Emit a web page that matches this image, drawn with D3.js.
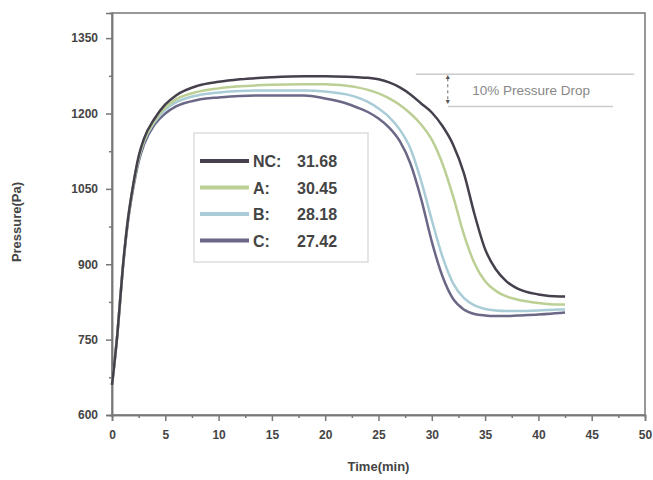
<!DOCTYPE html>
<html>
<head>
<meta charset="utf-8">
<script src="https://cdn.jsdelivr.net/npm/d3@7"></script>
<style>
body{margin:0;background:#fff;}
text{font-family:"Liberation Sans",Arial,sans-serif;}
</style>
</head>
<body>
<svg id="graph" width="653" height="480"></svg>
<script>
//donnees
var temps = [0,0.5,1,1.5,2,2.5,3,4,5,6,8,10,12,15,18,20,22,23,24,25,26,27,28,29,30,31,32,33,34,35,36,37,38,40,42,42.5];
var serieNC = [660,760,890,990,1060,1115,1150,1190,1218,1236,1255,1263,1268,1272,1274,1274,1273,1272,1271,1268,1262,1252,1238,1220,1202,1175,1138,1082,1000,930,890,866,852,840,836,836];
var serieA  = [660,760,890,990,1058,1112,1146,1186,1212,1228,1243,1250,1254,1257,1258,1258,1255,1252,1247,1240,1230,1217,1200,1178,1148,1100,1035,960,902,866,847,836,830,823,820,820];
var serieB  = [660,760,890,990,1058,1110,1144,1183,1208,1222,1236,1242,1245,1246,1246,1244,1238,1232,1223,1210,1193,1168,1130,1066,988,915,862,833,818,811,808,807,807,808,810,810];
var serieC  = [660,760,888,985,1052,1104,1138,1178,1200,1214,1227,1232,1235,1236,1236,1230,1220,1212,1203,1190,1172,1145,1100,1030,945,876,831,810,801,798,797,797,798,800,803,804];
var noms = ["NC:","A:","B:","C:"];
var valeurs = ["31.68","30.45","28.18","27.42"];
var couleurs = ["#45404c","#bccf94","#a9ccd6","#6a6886"];
var ticksX = [0,5,10,15,20,25,30,35,40,45,50];
var ticksY = [600,750,900,1050,1200,1350];

var svg = d3.select("#graph");
var gauche = 112, droite = 645, haut = 13, bas = 415;

var x = d3.scaleLinear().domain([0,50]).range([gauche,droite]);
var y = d3.scaleLinear().domain([600,1400]).range([bas,haut]);

//cadre
svg.append("rect")
	.attr("x",gauche).attr("y",haut)
	.attr("width",droite-gauche).attr("height",bas-haut)
	.attr("fill","none").attr("stroke","#777").attr("stroke-width",1.5);

//axes
var axeX = d3.axisBottom(x).tickValues(ticksX).tickSize(6).tickPadding(9).tickFormat(d3.format("d"));
var axeY = d3.axisLeft(y).tickValues(ticksY).tickSize(6).tickPadding(8).tickFormat(d3.format("d"));
var gx = svg.append("g").attr("transform","translate(0,"+bas+")").call(axeX);
var gy = svg.append("g").attr("transform","translate("+gauche+",0)").call(axeY);

//petites graduations
var mineurX = d3.range(2.5,50,5);
var mineurY = d3.range(675,1400,150);
svg.append("g").attr("transform","translate(0,"+bas+")")
	.call(d3.axisBottom(x).tickValues(mineurX).tickSize(3).tickFormat(""));
svg.append("g").attr("transform","translate("+gauche+",0)")
	.call(d3.axisLeft(y).tickValues(mineurY).tickSize(3).tickFormat(""));

svg.selectAll(".domain").attr("stroke","#777").attr("stroke-width",1.5);
svg.selectAll(".tick line").attr("stroke","#777").attr("stroke-width",1.5);
svg.selectAll(".tick text").attr("fill","#444").style("font-size","12px").style("font-weight","bold");

//titres
svg.append("text")
	.attr("x",(gauche+droite)/2).attr("y",471)
	.attr("text-anchor","middle").attr("fill","#444")
	.style("font-size","13px").style("font-weight","bold")
	.text("Time(min)");
svg.append("text")
	.attr("transform","translate(21,"+((haut+bas)/2+8)+") rotate(-90)")
	.attr("text-anchor","middle").attr("fill","#444")
	.style("font-size","13px").style("font-weight","bold")
	.text("Pressure(Pa)");

//courbes
var series = [serieNC,serieA,serieB,serieC];
var ligne = d3.line()
	.x(function(d,i){ return x(temps[i]); })
	.y(function(d){ return y(d); })
	.curve(d3.curveMonotoneX);

for(i=series.length-1;i>=0;i--){
	svg.append("path")
		.datum(series[i])
		.attr("d",ligne)
		.attr("fill","none")
		.attr("stroke",couleurs[i])
		.attr("stroke-width",2.5);
}

//annotation 10%
svg.append("line").attr("x1",x(28.5)).attr("x2",x(49)).attr("y1",y(1278)).attr("y2",y(1278))
	.attr("stroke","#ccc").attr("stroke-width",1.5);
svg.append("line").attr("x1",x(31.5)).attr("x2",x(47)).attr("y1",y(1214)).attr("y2",y(1214))
	.attr("stroke","#ccc").attr("stroke-width",1.5);
svg.append("line").attr("x1",x(31.5)).attr("x2",x(31.5)).attr("y1",y(1270)).attr("y2",y(1222))
	.attr("stroke","#666").attr("stroke-width",1).attr("stroke-dasharray","3,3");
svg.append("text").attr("x",x(31.5)).attr("y",y(1268)).attr("text-anchor","middle")
	.attr("fill","#555").style("font-size","7px").text("▲");
svg.append("text").attr("x",x(31.5)).attr("y",y(1218)).attr("text-anchor","middle")
	.attr("fill","#555").style("font-size","7px").text("▼");
svg.append("text")
	.attr("x",x(33.8)).attr("y",y(1246)+5)
	.attr("fill","#888").style("font-size","13.5px")
	.text("10% Pressure Drop");

//legende
var leg = svg.append("g");
leg.append("rect").attr("x",194).attr("y",133).attr("width",174).attr("height",129)
	.attr("fill","#fff").attr("stroke","#ddd").attr("stroke-width",1.5);
var lignesLeg = leg.selectAll(".entree").data(noms).enter().append("g")
	.attr("class","entree")
	.attr("transform",function(d,i){ return "translate(0,"+(161+i*26.5)+")"; });
lignesLeg.append("line").attr("x1",200).attr("x2",249).attr("y1",0).attr("y2",0)
	.attr("stroke",function(d,i){ return couleurs[i]; }).attr("stroke-width",4);
lignesLeg.append("text").attr("x",253).attr("y",6)
	.attr("fill","#444").style("font-size","16px").style("font-weight","bold")
	.text(function(d){ return d; });
lignesLeg.append("text").attr("x",297).attr("y",6)
	.attr("fill","#444").style("font-size","16px").style("font-weight","bold")
	.text(function(d,i){ return valeurs[i]; });
</script>
</body>
</html>
